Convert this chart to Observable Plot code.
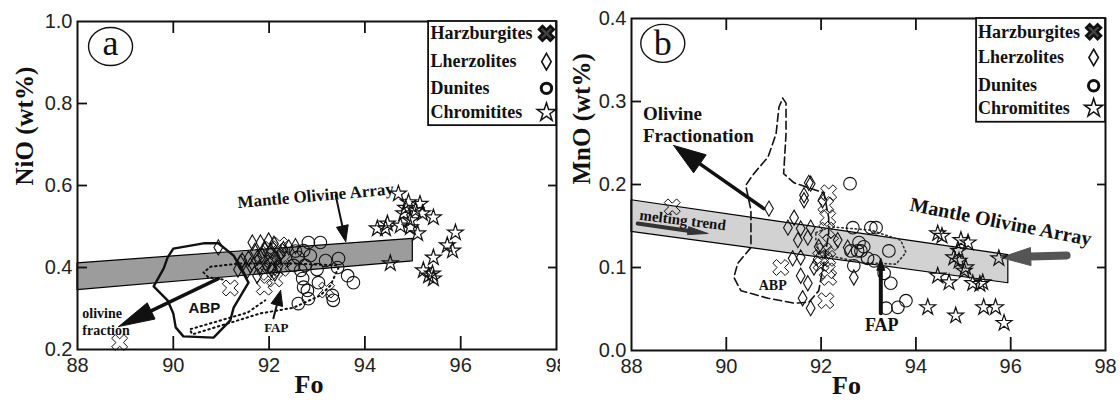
<!DOCTYPE html>
<html><head><meta charset="utf-8">
<script src="https://cdn.jsdelivr.net/npm/d3@7"></script>
<script src="https://cdn.jsdelivr.net/npm/@observablehq/plot@0.6"></script>
<style>
body{margin:0;background:#fff;}
#wrap{display:flex;width:1120px;height:402px;overflow:hidden;}
#wrap svg{overflow:visible;flex:none;}
</style></head><body><div id="wrap"></div>
<script>
// ---------------- DATA (Fo, oxide wt%) ----------------
const xTicks = [88, 90, 92, 94, 96, 98];
const yTicksA = [0.2, 0.4, 0.6, 0.8, 1.0];
const yTicksB = [0.0, 0.1, 0.2, 0.3, 0.4];
const legendLabels = ["Harzburgites", "Lherzolites", "Dunites", "Chromitites"];

// Panel a: NiO vs Fo
const harzA = [[88.88,0.217],[91.19,0.350],[91.90,0.352],[92.12,0.372],[93.20,0.345],[92.05,0.420],[92.18,0.440],[92.25,0.398],[91.98,0.388],[92.10,0.405],[92.22,0.455],[92.02,0.445],[91.85,0.412],[92.30,0.420]];
const lherzA = [[90.94,0.449],[91.40,0.412],[91.57,0.422],[91.44,0.417],[91.61,0.405],[91.55,0.393],[91.65,0.461],[91.82,0.461],[91.99,0.466],[92.41,0.449],[91.76,0.424],[92.03,0.441],[92.24,0.434],[91.90,0.445],[92.10,0.458],[91.70,0.440],[91.85,0.430],[92.15,0.420],[91.95,0.405],[92.05,0.395],[91.80,0.400],[92.20,0.405],[92.30,0.445],[91.35,0.395],[92.55,0.452],[91.75,0.380],[92.12,0.385]];
const dunA = [[92.82,0.461],[93.07,0.461],[92.72,0.441],[92.86,0.429],[93.18,0.417],[93.45,0.422],[92.66,0.393],[92.70,0.373],[93.03,0.363],[93.64,0.380],[93.76,0.363],[92.80,0.344],[92.61,0.312],[92.82,0.324],[93.32,0.332],[93.34,0.320],[93.43,0.400],[92.51,0.405],[92.60,0.425],[92.75,0.405],[93.00,0.395],[92.55,0.440],[92.72,0.352]];
const chromA = [[94.70,0.580],[94.91,0.559],[95.06,0.539],[95.20,0.532],[95.43,0.522],[94.81,0.532],[94.95,0.515],[94.74,0.502],[94.95,0.498],[95.10,0.483],[94.26,0.495],[94.47,0.507],[94.43,0.495],[94.53,0.410],[95.89,0.485],[95.72,0.454],[95.83,0.441],[95.43,0.424],[95.22,0.393],[95.41,0.385],[95.43,0.373],[95.33,0.380],[95.15,0.555],[94.85,0.545]];

// Panel b: MnO vs Fo
const harzB = [[88.86,0.173],[92.16,0.190],[92.10,0.175],[92.14,0.160],[92.12,0.145],[92.06,0.120],[92.14,0.111],[91.15,0.100],[92.16,0.088],[92.10,0.060],[91.99,0.112],[92.13,0.096],[92.00,0.105],[92.20,0.130]];
const lherzB = [[90.90,0.171],[91.78,0.201],[91.64,0.181],[92.03,0.181],[91.43,0.160],[91.30,0.148],[91.57,0.147],[91.78,0.148],[91.51,0.133],[91.72,0.136],[91.40,0.111],[91.57,0.112],[91.57,0.090],[91.72,0.081],[91.61,0.063],[91.78,0.051],[92.35,0.133],[92.56,0.124],[92.69,0.088],[91.74,0.202],[91.64,0.187],[91.95,0.125],[91.85,0.100]];
const dunB = [[92.61,0.201],[92.67,0.148],[93.05,0.148],[93.16,0.148],[92.63,0.120],[92.77,0.120],[92.84,0.120],[92.98,0.111],[93.12,0.108],[92.69,0.102],[92.80,0.130],[93.43,0.120],[93.33,0.093],[93.47,0.081],[93.79,0.060],[93.62,0.052],[93.37,0.051],[92.90,0.125]];
const chromB = [[94.46,0.141],[94.55,0.138],[94.95,0.133],[95.10,0.130],[94.80,0.112],[94.91,0.108],[95.02,0.096],[94.46,0.090],[94.70,0.082],[95.20,0.081],[95.41,0.082],[95.35,0.080],[95.75,0.111],[94.25,0.052],[94.84,0.042],[95.43,0.052],[95.68,0.052],[95.86,0.033],[94.90,0.120],[95.05,0.100]];

// Mantle olivine array bands
const bandFoA = [88, 95], bandTopA = [0.41, 0.47], bandBotA = [0.345, 0.415];
const bandFoB = [88, 95.95], bandTopB = [0.181, 0.115], bandBotB = [0.143, 0.081];

// Fields
const abpA = [[90.00,0.446],[90.63,0.459],[90.94,0.459],[91.26,0.429],[91.57,0.363],[91.26,0.302],[91.19,0.271],[90.84,0.229],[90.21,0.232],[90.05,0.254],[90.00,0.288],[89.88,0.320],[89.59,0.354],[89.80,0.398],[89.88,0.424]];
const fapA1 = [[91.03,0.371],[90.73,0.376],[90.63,0.388],[90.78,0.402],[91.40,0.410],[92.45,0.410],[93.45,0.405]];
const fapA2 = [[93.45,0.400],[93.28,0.356],[93.07,0.332],[92.51,0.302],[91.82,0.288],[90.40,0.237],[90.34,0.249],[91.55,0.290],[91.92,0.320]];
const abpB = [[91.19,0.304],[91.26,0.298],[91.26,0.261],[91.21,0.213],[91.43,0.202],[91.74,0.196],[92.06,0.190],[92.16,0.160],[92.16,0.141],[92.06,0.106],[91.95,0.072],[91.74,0.058],[91.43,0.057],[90.88,0.063],[90.31,0.072],[90.16,0.088],[90.24,0.105],[90.52,0.124],[90.52,0.169],[90.41,0.199],[90.58,0.213],[90.88,0.233],[91.05,0.261],[91.11,0.293]];
const fapB = [[91.89,0.142],[92.20,0.149],[93.05,0.145],[93.68,0.133],[93.79,0.118],[93.58,0.104],[92.84,0.106],[92.20,0.114],[91.95,0.120],[91.89,0.133]];

// ---------------- helpers ----------------
const SERIF = "'Liberation Serif','Times New Roman',serif";
const SANS = "'Liberation Sans',Arial,sans-serif";
const pts = a => a.map(([x, y]) => ({x, y}));
const closed = a => pts(a.concat([a[0]]));
const K = v => () => v;

const hollowX = {
  draw(ctx, size) {
    const s = Math.sqrt(size / Math.PI) * 1.45, t = s * 0.3;
    const p = [[-t,-s],[t,-s],[t,-t],[s,-t],[s,t],[t,t],[t,s],[-t,s],[-t,t],[-s,t],[-s,-t],[-t,-t]]
      .map(([x, y]) => [(x - y) / Math.SQRT2, (x + y) / Math.SQRT2]);
    ctx.moveTo(p[0][0], p[0][1]);
    for (let i = 1; i < p.length; i++) ctx.lineTo(p[i][0], p[i][1]);
    ctx.closePath();
  }
};
const ellipseSym = (rx, ry) => ({
  draw(ctx) {
    const k = 0.5523;
    ctx.moveTo(rx, 0);
    ctx.bezierCurveTo(rx, ry * k, rx * k, ry, 0, ry);
    ctx.bezierCurveTo(-rx * k, ry, -rx, ry * k, -rx, 0);
    ctx.bezierCurveTo(-rx, -ry * k, -rx * k, -ry, 0, -ry);
    ctx.bezierCurveTo(rx * k, -ry, rx, -ry * k, rx, 0);
    ctx.closePath();
  }
});

function arrow(from, to, o, kx, ky) {
  const dx = (to[0] - from[0]) * kx, dy = -(to[1] - from[1]) * ky;
  const L = Math.hypot(dx, dy), ux = dx / L, uy = dy / L;
  const bx = -ux * o.head, by = -uy * o.head;
  const nx = -uy * o.half, ny = ux * o.half;
  const toD = (px, py) => ({x: to[0] + px / kx, y: to[1] - py / ky});
  const base = toD(bx, by);
  const head = [toD(0, 0), toD(bx + nx, by + ny), toD(bx - nx, by - ny), toD(0, 0)];
  return [
    Plot.line([{x: from[0], y: from[1]}, base], {x: "x", y: "y", stroke: o.color, strokeWidth: o.width}),
    Plot.line(head, {x: "x", y: "y", fill: o.color, stroke: o.color, strokeWidth: 1, strokeLinejoin: "miter"})
  ];
}

function panel(c) {
  const W = 560, H = 402;
  const fw = W - c.ml - c.mr, fh = H - c.mt - c.mb;
  const kx = fw / (c.xd[1] - c.xd[0]);
  const ky = fh / (c.yd[1] - c.yd[0]);
  const innerX = xTicks.filter(v => v > c.xd[0] && v < c.xd[1]);
  const innerY = c.yTicks.filter(v => v > c.yd[0] + 1e-9 && v < c.yd[1] - 1e-9);
  const noText = () => "";
  const band = c.bandFo.map((f, i) => ({x: f, hi: c.bandTop[i], lo: c.bandBot[i]}));
  const legend = legendLabels.map((t, i) => ({t, x: c.legTextX, sx: c.legSymX, y: c.legY[i]}));
  const tag = [c.tag];
  const marks = [
    Plot.areaY(band, {x: "x", y1: "lo", y2: "hi", fill: c.bandFill, stroke: "black", strokeWidth: 1.2}),
    ...c.fields,
    ...c.arrows.flatMap(a => arrow(a.from, a.to, a, kx, ky)),
    Plot.dot(pts(c.harz), {x: "x", y: "y", r: 6, symbol: hollowX, stroke: "#111", strokeWidth: 1, fill: "none"}),
    Plot.dot(pts(c.lherz), {x: "x", y: "y", r: 4.6, symbol: "diamond", stroke: "#111", strokeWidth: 1.1, fill: "none"}),
    Plot.dot(pts(c.dun), {x: "x", y: "y", r: 6.3, stroke: "#111", strokeWidth: 1.1, fill: "none"}),
    Plot.dot(pts(c.chrom), {x: "x", y: "y", r: 5, symbol: "star", stroke: "#111", strokeWidth: 1.2, fill: "none"}),
    Plot.frame({stroke: "#111", strokeWidth: 2}),
    // inward frame ticks drawn by the axis marks, shifted inside the frame
    Plot.axisX(innerX, {anchor: "bottom", tickSize: 13, dy: -13, tickFormat: noText, label: null, stroke: "#111", strokeWidth: 1.8}),
    Plot.axisX(innerX, {anchor: "top", tickSize: 11, dy: 11, tickFormat: noText, label: null, stroke: "#111", strokeWidth: 1.8}),
    Plot.axisY(innerY, {anchor: "left", tickSize: 10, dx: 10, tickFormat: noText, label: null, stroke: "#111", strokeWidth: 1.8}),
    Plot.axisY(innerY, {anchor: "right", tickSize: 9, dx: -9, tickFormat: noText, label: null, stroke: "#111", strokeWidth: 1.8}),
    // legend
    Plot.rect([0], {x1: K(c.legX1), x2: K(c.xd[1]), y1: K(c.legY1), y2: K(c.yd[1]), fill: "white", stroke: "#111", strokeWidth: 1.8}),
    Plot.text(legend, {x: "x", y: "y", text: "t", textAnchor: "start", fontFamily: SERIF, fontWeight: "bold", fontSize: 18, fill: "#111"}),
    Plot.dot(legend.slice(0, 1), {x: "sx", y: "y", r: 5.5, symbol: hollowX, stroke: "#111", strokeWidth: 2.6, fill: "#444"}),
    Plot.dot(legend.slice(1, 2), {x: "sx", y: "y", r: 5, symbol: "diamond", stroke: "#111", strokeWidth: 1.6, fill: "none"}),
    Plot.dot(legend.slice(2, 3), {x: "sx", y: "y", r: 5.2, stroke: "#111", strokeWidth: 3, fill: "none"}),
    Plot.dot(legend.slice(3, 4), {x: "sx", y: "y", r: 5.8, symbol: "star", stroke: "#111", strokeWidth: 1.5, fill: "none"}),
    // panel tag
    Plot.dot(tag, {x: "x", y: "y", symbol: ellipseSym(22, 19), stroke: "#111", strokeWidth: 1.4, fill: "none"}),
    Plot.text(tag, {x: "x", y: "y", text: "t", dy: c.tag.dy, fontFamily: SERIF, fontSize: 36, fill: "#111"}),
    // annotations
    Plot.text(c.texts.filter(t => !t.font), {x: "x", y: "y", text: "t", rotate: d => d.rot || 0, textAnchor: "middle",
      fontFamily: SERIF, fontWeight: "bold", fontSize: d => d.size, fill: "#111"}),
    Plot.text(c.texts.filter(t => t.font), {x: "x", y: "y", text: "t", textAnchor: "middle",
      fontFamily: SANS, fontWeight: "bold", fontSize: d => d.size, fill: "#111"}),
    Plot.text(c.leftTexts, {x: "x", y: "y", text: "t", textAnchor: "start",
      fontFamily: SERIF, fontWeight: "bold", fontSize: d => d.size, fill: "#111"}),
    // axes (labels only)
    Plot.axisX(xTicks, {anchor: "bottom", tickSize: 0, tickPadding: 8, fontSize: 20, fontFamily: SANS, fill: "#222", label: null}),
    Plot.axisY(c.yTicks, {anchor: "left", tickSize: 0, tickPadding: 5, fontSize: 20, fontFamily: SANS, fill: "#222", tickFormat: d3.format(".1f"), label: null}),
    Plot.text([c.xLabel], {frameAnchor: "bottom", dy: 43, dx: c.xLabelDx, fontFamily: SERIF, fontWeight: "bold", fontSize: 26, fill: "#111"}),
    Plot.text([c.yLabel], {frameAnchor: "left", dx: -c.yLabelOff, rotate: -90, fontFamily: SERIF, fontWeight: "bold", fontSize: 25, fill: "#111"})
  ];
  return Plot.plot({
    width: W, height: H,
    marginLeft: c.ml, marginRight: c.mr, marginTop: c.mt, marginBottom: c.mb,
    x: {domain: c.xd}, y: {domain: c.yd},
    style: {background: "white", color: "#111"},
    marks
  });
}

const chartA = panel({
  ml: 77, mr: 4, mt: 21, mb: 53, xd: [88, 98], yd: [0.2, 1.0], yTicks: yTicksA,
  bandFo: bandFoA, bandTop: bandTopA, bandBot: bandBotA, bandFill: "#9c9c9c",
  harz: harzA, lherz: lherzA, dun: dunA, chrom: chromA,
  fields: [
    Plot.line(closed(abpA), {x: "x", y: "y", stroke: "#111", strokeWidth: 2.4}),
    Plot.line(pts(fapA1), {x: "x", y: "y", stroke: "#111", strokeWidth: 2, strokeDasharray: "1.5,3.5", strokeLinecap: "round"}),
    Plot.line(pts(fapA2), {x: "x", y: "y", stroke: "#111", strokeWidth: 2, strokeDasharray: "1.5,3.5", strokeLinecap: "round"})
  ],
  arrows: [
    {from: [90.94, 0.373], to: [88.86, 0.256], width: 3.5, head: 36, half: 9, color: "#111"},
    {from: [93.39, 0.576], to: [93.60, 0.463], width: 2, head: 16, half: 6, color: "#111"},
    {from: [92.09, 0.276], to: [92.24, 0.344], width: 2, head: 15, half: 6, color: "#111"}
  ],
  legX1: 95.33, legY1: 0.746, legY: [0.971, 0.902, 0.837, 0.778], legTextX: 95.37, legSymX: 97.79,
  tag: {t: "a", x: 88.69, y: 0.939, dy: -3},
  texts: [
    {t: "Mantle Olivine Array", x: 92.97, y: 0.575, size: 17, rot: -5},
    {t: "ABP", x: 90.65, y: 0.300, size: 15, font: "sans"},
    {t: "FAP", x: 92.15, y: 0.254, size: 13}
  ],
  leftTexts: [
    {t: "olivine", x: 88.10, y: 0.288, size: 14},
    {t: "fraction", x: 88.10, y: 0.246, size: 14}
  ],
  xLabel: "Fo", xLabelDx: -8, yLabel: "NiO (wt%)", yLabelOff: 53
});

const chartB = panel({
  ml: 71, mr: 15, mt: 18, mb: 52, xd: [88, 98], yd: [0.0, 0.4], yTicks: yTicksB,
  bandFo: bandFoB, bandTop: bandTopB, bandBot: bandBotB, bandFill: "#d2d2d2",
  harz: harzB, lherz: lherzB, dun: dunB, chrom: chromB,
  fields: [
    Plot.line(closed(abpB), {x: "x", y: "y", stroke: "#111", strokeWidth: 1.6, strokeDasharray: "8,4"}),
    Plot.line(closed(fapB), {x: "x", y: "y", stroke: "#333", strokeWidth: 1.6, strokeDasharray: "1.5,3", strokeLinecap: "round"})
  ],
  arrows: [
    {from: [90.79, 0.171], to: [88.89, 0.247], width: 3.5, head: 32, half: 11, color: "#111"},
    {from: [97.18, 0.1145], to: [95.79, 0.112], width: 8, head: 30, half: 9, color: "#555"},
    {from: [88.13, 0.153], to: [89.61, 0.141], width: 4, head: 20, half: 4, color: "#333"},
    {from: [93.26, 0.045], to: [93.26, 0.111], width: 4, head: 12, half: 4, color: "#111"}
  ],
  legX1: 95.28, legY1: 0.275, legY: [0.384, 0.353, 0.319, 0.292], legTextX: 95.31, legSymX: 97.75,
  tag: {t: "b", x: 88.66, y: 0.370, dy: 0},
  texts: [
    {t: "melting trend", x: 89.08, y: 0.157, size: 15, rot: 7},
    {t: "ABP", x: 90.98, y: 0.078, size: 14},
    {t: "Mantle Olivine Array", x: 95.79, y: 0.155, size: 20, rot: 11},
    {t: "FAP", x: 93.28, y: 0.030, size: 18}
  ],
  leftTexts: [
    {t: "Olivine", x: 88.24, y: 0.2855, size: 19},
    {t: "Fractionation", x: 88.24, y: 0.259, size: 19}
  ],
  xLabel: "Fo", xLabelDx: -22, yLabel: "MnO (wt%)", yLabelOff: 50
});

const wrap = document.getElementById("wrap");
wrap.appendChild(chartA);
wrap.appendChild(chartB);
</script>
</body></html>
